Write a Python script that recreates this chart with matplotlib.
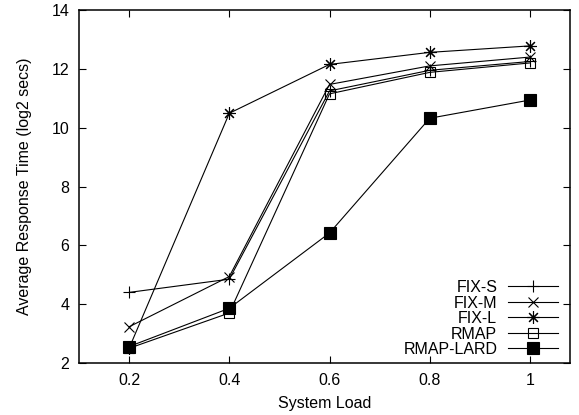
import matplotlib
matplotlib.use('Agg')
import matplotlib.pyplot as plt

plt.rcParams['font.family'] = ['Liberation Sans', 'DejaVu Sans']

load = [0.2, 0.4, 0.6, 0.8, 1.0]
fix_s = [4.40, 4.85, 11.25, 11.95, 12.25]
fix_m = [3.23, 4.94, 11.47, 12.10, 12.40]
fix_l = [2.50, 10.49, 12.15, 12.56, 12.78]
rmap = [2.50, 3.70, 11.15, 11.88, 12.20]
rmap_lard = [2.56, 3.86, 6.42, 10.32, 10.94]

fig = plt.figure(figsize=(5.79, 4.15), dpi=100)
ax = fig.add_axes([0.1364, 0.1253, 0.8481, 0.8506])

lw = 0.8
fs = 11.5
ax.plot(load, fix_s, color='black', lw=lw, marker='+', ms=8, mew=0.8, label='FIX-S')
ax.plot(load, fix_m, color='black', lw=lw, marker='x', ms=7, mew=0.8, label='FIX-M')
ax.plot(load, fix_l, color='black', lw=lw, marker=(8, 2, 0), ms=9, mew=0.8, label='FIX-L')
ax.plot(load, rmap, color='black', lw=lw, marker='s', ms=7, mew=0.8,
        mfc='none', label='RMAP')
ax.plot(load, rmap_lard, color='black', lw=lw, marker='s', ms=8, mew=0.8,
        mfc='black', label='RMAP-LARD')

ax.set_xlim(0.1, 1.08)
ax.set_ylim(2, 14)
ax.set_xticks([0.2, 0.4, 0.6, 0.8, 1.0])
ax.set_xticklabels(['0.2', '0.4', '0.6', '0.8', '1'])
ax.set_yticks([2, 4, 6, 8, 10, 12, 14])
ax.tick_params(direction='in', top=True, right=True, length=5, width=0.8,
               labelsize=fs, pad=7)
for s in ax.spines.values():
    s.set_linewidth(1.1)

ax.set_xlabel('System Load', fontsize=fs, labelpad=6)
ax.set_ylabel('Average Response Time (log2 secs)', fontsize=fs, labelpad=14)

leg = ax.legend(loc='lower right', bbox_to_anchor=(558 / 579, 58 / 415),
                bbox_transform=fig.transFigure, frameon=False, fontsize=fs,
                markerfirst=False, handlelength=3.1, handletextpad=0.7,
                labelspacing=0.03, borderpad=0, borderaxespad=0)
leg._legend_box._children[-1]._children[0].align = 'right'

fig.savefig('out.png', dpi=100)
